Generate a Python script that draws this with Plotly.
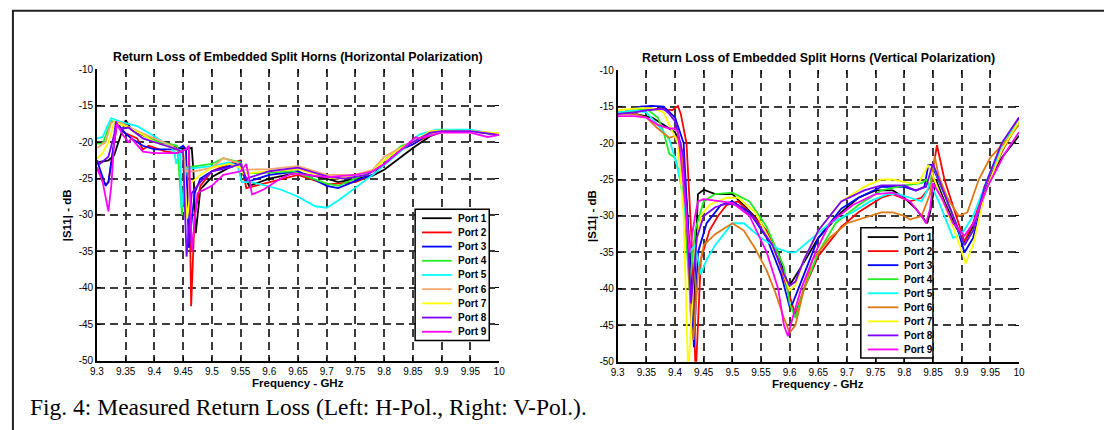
import plotly.graph_objects as go

W, H = 1104, 430

# ---------------- data ----------------
port_names = ["Port 1", "Port 2", "Port 3", "Port 4", "Port 5", "Port 6", "Port 7", "Port 8", "Port 9"]
colors_h = ["#000000", "#ff0000", "#0000ff", "#22ee22", "#00ffff", "#f8a66c", "#ffff00", "#7f00ff", "#ff00ff"]
colors_v = ["#000000", "#ff0000", "#0000ff", "#22ee22", "#00ffff", "#dd7a14", "#ffff00", "#7f00ff", "#ff00ff"]

freq_ticks = [9.3, 9.35, 9.4, 9.45, 9.5, 9.55, 9.6, 9.65, 9.7, 9.75, 9.8, 9.85, 9.9, 9.95, 10.0]
freq_tick_labels = ["9.3", "9.35", "9.4", "9.45", "9.5", "9.55", "9.6", "9.65", "9.7", "9.75", "9.8", "9.85", "9.9", "9.95", "10"]
db_ticks = [-50, -45, -40, -35, -30, -25, -20, -15, -10]
db_tick_labels = ["-50", "-45", "-40", "-35", "-30", "-25", "-20", "-15", "-10"]

# Horizontal polarization
h_f1 = [9.30, 9.32, 9.33, 9.34, 9.35, 9.36, 9.40, 9.44, 9.455, 9.465, 9.468, 9.472, 9.48, 9.50, 9.53, 9.55, 9.555, 9.565, 9.60, 9.65, 9.70, 9.72, 9.75, 9.78, 9.80, 9.83, 9.85, 9.88, 9.90, 9.95, 9.98, 10.0]
h_s1 = [-22.8, -22.5, -21.8, -19.5, -17.0, -18.3, -19.8, -20.8, -21.0, -20.8, -24.0, -32.5, -26.5, -24.8, -23.5, -23.0, -24.5, -26.0, -25.0, -24.2, -25.0, -25.5, -25.0, -24.6, -23.8, -22.0, -20.8, -19.2, -18.6, -18.4, -18.8, -19.0]
h_f2 = [9.30, 9.315, 9.32, 9.335, 9.35, 9.37, 9.38, 9.39, 9.42, 9.44, 9.455, 9.46, 9.464, 9.47, 9.48, 9.50, 9.53, 9.55, 9.56, 9.60, 9.65, 9.70, 9.75, 9.78, 9.80, 9.83, 9.85, 9.88, 9.90, 9.95, 10.0]
h_s2 = [-23.5, -25.8, -25.5, -17.5, -18.8, -19.5, -21.0, -20.5, -21.3, -21.5, -21.0, -20.8, -42.5, -30.0, -26.0, -24.0, -23.0, -22.5, -26.3, -25.5, -24.5, -25.8, -25.5, -24.5, -23.0, -21.0, -20.3, -19.0, -18.6, -18.5, -19.0]
h_f3 = [9.30, 9.315, 9.32, 9.33, 9.335, 9.345, 9.36, 9.38, 9.40, 9.44, 9.45, 9.455, 9.46, 9.47, 9.48, 9.50, 9.53, 9.55, 9.56, 9.60, 9.65, 9.70, 9.72, 9.76, 9.78, 9.80, 9.83, 9.85, 9.88, 9.90, 9.95, 9.98, 10.0]
h_s3 = [-22.5, -26.0, -25.5, -20.0, -17.2, -18.5, -19.5, -20.5, -21.0, -21.0, -20.5, -21.0, -34.5, -27.0, -25.0, -24.0, -23.3, -22.7, -25.5, -24.5, -24.0, -26.0, -26.3, -25.0, -24.5, -23.0, -21.0, -20.3, -18.8, -18.5, -18.5, -18.8, -19.0]
h_f4 = [9.30, 9.31, 9.325, 9.34, 9.37, 9.40, 9.43, 9.44, 9.448, 9.455, 9.50, 9.52, 9.55, 9.555, 9.60, 9.64, 9.70, 9.72, 9.75, 9.78, 9.80, 9.83, 9.85, 9.88, 9.90, 9.95, 9.98, 10.0]
h_s4 = [-20.2, -20.2, -17.1, -17.5, -18.5, -19.8, -20.3, -20.5, -30.0, -23.5, -23.0, -22.2, -22.8, -24.3, -24.2, -24.0, -25.7, -26.0, -25.0, -24.0, -22.5, -20.5, -20.0, -18.7, -18.5, -18.5, -18.8, -19.0]
h_f5 = [9.30, 9.31, 9.32, 9.325, 9.34, 9.37, 9.40, 9.43, 9.435, 9.438, 9.445, 9.447, 9.455, 9.50, 9.53, 9.545, 9.552, 9.57, 9.62, 9.65, 9.68, 9.70, 9.72, 9.75, 9.78, 9.81, 9.84, 9.86, 9.89, 9.95, 10.0]
h_s5 = [-19.5, -19.3, -17.5, -16.7, -17.2, -17.8, -19.2, -20.8, -21.5, -23.0, -21.0, -29.0, -23.7, -23.3, -22.8, -23.3, -25.5, -25.5, -26.5, -27.5, -28.8, -29.0, -28.0, -26.3, -24.5, -22.5, -20.5, -19.0, -18.3, -18.3, -19.0]
h_f6 = [9.30, 9.315, 9.325, 9.34, 9.37, 9.40, 9.43, 9.44, 9.45, 9.455, 9.47, 9.50, 9.52, 9.55, 9.555, 9.60, 9.65, 9.70, 9.75, 9.78, 9.80, 9.84, 9.86, 9.90, 9.95, 10.0]
h_s6 = [-20.8, -20.0, -17.3, -17.3, -18.5, -19.5, -20.5, -21.0, -21.5, -24.0, -24.0, -23.5, -22.2, -23.0, -23.8, -23.7, -23.3, -24.5, -24.5, -23.8, -22.0, -20.3, -19.5, -18.5, -18.5, -18.8]
h_f7 = [9.30, 9.31, 9.32, 9.33, 9.35, 9.38, 9.40, 9.44, 9.45, 9.457, 9.465, 9.48, 9.50, 9.53, 9.55, 9.555, 9.60, 9.65, 9.70, 9.72, 9.76, 9.78, 9.80, 9.83, 9.85, 9.88, 9.90, 9.95, 10.0]
h_s7 = [-22.3, -21.5, -20.0, -17.3, -17.8, -19.0, -20.0, -21.0, -21.5, -30.5, -25.5, -24.5, -23.5, -23.0, -23.5, -24.3, -24.0, -23.7, -24.8, -25.0, -24.3, -24.0, -22.5, -20.8, -20.0, -18.5, -18.4, -18.5, -18.8]
h_f8 = [9.30, 9.305, 9.32, 9.33, 9.333, 9.34, 9.355, 9.38, 9.42, 9.44, 9.45, 9.456, 9.465, 9.48, 9.50, 9.53, 9.55, 9.56, 9.60, 9.65, 9.70, 9.73, 9.77, 9.80, 9.83, 9.85, 9.88, 9.90, 9.95, 10.0]
h_s8 = [-22.5, -23.0, -22.0, -19.0, -17.2, -18.2, -18.0, -19.5, -20.5, -21.0, -21.5, -35.7, -27.0, -25.5, -24.0, -23.5, -23.0, -25.0, -24.0, -23.5, -24.7, -25.0, -24.5, -23.0, -21.0, -20.0, -18.7, -18.5, -18.5, -19.0]
h_f9 = [9.30, 9.31, 9.32, 9.325, 9.33, 9.335, 9.345, 9.355, 9.36, 9.38, 9.40, 9.44, 9.455, 9.46, 9.465, 9.475, 9.50, 9.52, 9.55, 9.56, 9.57, 9.59, 9.62, 9.64, 9.70, 9.75, 9.78, 9.80, 9.83, 9.855, 9.86, 9.90, 9.95, 9.98, 10.0]
h_s9 = [-23.5, -25.5, -29.5, -26.0, -20.0, -17.5, -19.0, -20.0, -19.5, -21.3, -21.5, -21.5, -21.0, -20.5, -35.0, -27.0, -26.0, -24.5, -24.0, -23.0, -27.2, -26.5, -25.0, -24.3, -24.8, -24.5, -24.0, -23.0, -21.0, -19.3, -19.5, -18.7, -18.7, -19.3, -19.0]

# Vertical polarization
v_f1 = [9.30, 9.33, 9.36, 9.38, 9.40, 9.41, 9.42, 9.432, 9.44, 9.45, 9.47, 9.50, 9.52, 9.55, 9.58, 9.595, 9.60, 9.62, 9.65, 9.69, 9.72, 9.75, 9.78, 9.80, 9.82, 9.84, 9.845, 9.855, 9.87, 9.89, 9.905, 9.92, 9.94, 9.97, 10.0]
v_s1 = [-15.8, -16.0, -16.5, -17.5, -18.5, -20.5, -28.0, -43.0, -27.0, -26.4, -27.0, -27.0, -28.5, -31.0, -35.0, -39.0, -39.5, -37.0, -33.0, -29.5, -27.5, -26.5, -26.5, -27.5, -29.0, -31.0, -29.5, -25.0, -28.0, -31.5, -33.5, -31.5, -26.5, -22.0, -19.0]
v_f2 = [9.30, 9.34, 9.37, 9.39, 9.395, 9.405, 9.41, 9.42, 9.43, 9.436, 9.445, 9.46, 9.475, 9.49, 9.51, 9.53, 9.56, 9.58, 9.60, 9.61, 9.625, 9.65, 9.69, 9.72, 9.76, 9.78, 9.81, 9.83, 9.845, 9.857, 9.87, 9.89, 9.905, 9.92, 9.94, 9.975, 10.0]
v_s2 = [-16.0, -15.5, -15.3, -15.5, -15.5, -14.9, -16.0, -20.0, -35.0, -52.0, -36.0, -32.0, -30.0, -28.5, -28.0, -29.5, -32.0, -36.0, -41.0, -43.5, -40.0, -35.5, -31.5, -29.5, -27.5, -27.0, -28.0, -27.5, -26.0, -20.3, -25.0, -30.0, -33.5, -31.0, -26.0, -20.5, -17.0]
v_f3 = [9.30, 9.34, 9.36, 9.38, 9.40, 9.415, 9.425, 9.433, 9.44, 9.455, 9.46, 9.48, 9.50, 9.53, 9.56, 9.585, 9.60, 9.605, 9.625, 9.65, 9.69, 9.72, 9.76, 9.80, 9.82, 9.835, 9.842, 9.848, 9.87, 9.89, 9.905, 9.92, 9.94, 9.97, 10.0]
v_s3 = [-16.0, -15.0, -14.9, -15.0, -16.5, -20.0, -35.0, -48.0, -35.0, -31.0, -30.5, -28.5, -28.0, -29.5, -33.0, -38.0, -42.5, -42.0, -38.0, -33.0, -29.0, -27.5, -26.0, -26.0, -26.5, -26.0, -23.0, -23.0, -27.0, -31.0, -35.0, -33.0, -27.0, -21.0, -16.5]
v_f4 = [9.30, 9.33, 9.35, 9.37, 9.38, 9.39, 9.40, 9.415, 9.425, 9.435, 9.45, 9.47, 9.50, 9.53, 9.56, 9.59, 9.60, 9.61, 9.625, 9.65, 9.68, 9.72, 9.76, 9.80, 9.83, 9.838, 9.845, 9.85, 9.87, 9.89, 9.905, 9.92, 9.94, 9.97, 10.0]
v_s4 = [-16.0, -15.5, -15.3, -16.5, -18.5, -21.5, -22.0, -27.0, -40.0, -32.0, -28.0, -27.0, -26.8, -28.0, -31.5, -37.0, -42.0, -44.0, -40.0, -35.0, -31.0, -28.5, -26.5, -25.8, -25.5, -25.0, -26.0, -23.0, -27.0, -31.0, -34.0, -32.0, -26.0, -20.0, -17.0]
v_f5 = [9.30, 9.33, 9.35, 9.37, 9.39, 9.405, 9.415, 9.425, 9.435, 9.445, 9.455, 9.47, 9.50, 9.52, 9.55, 9.58, 9.60, 9.61, 9.64, 9.67, 9.71, 9.74, 9.77, 9.79, 9.81, 9.83, 9.84, 9.845, 9.86, 9.885, 9.90, 9.92, 9.95, 9.975, 10.0]
v_s5 = [-15.8, -15.5, -15.8, -17.5, -19.5, -23.5, -28.0, -35.0, -34.0, -38.0, -36.0, -34.0, -31.0, -31.0, -33.0, -34.5, -35.0, -35.0, -33.0, -31.0, -29.5, -28.0, -27.0, -27.0, -27.5, -28.0, -26.5, -25.5, -28.0, -33.0, -32.5, -30.0, -24.0, -20.0, -17.0]
v_f6 = [9.30, 9.33, 9.35, 9.37, 9.39, 9.40, 9.41, 9.42, 9.428, 9.432, 9.44, 9.45, 9.47, 9.49, 9.50, 9.52, 9.54, 9.56, 9.575, 9.59, 9.60, 9.61, 9.625, 9.64, 9.67, 9.70, 9.72, 9.76, 9.78, 9.80, 9.81, 9.83, 9.845, 9.853, 9.86, 9.875, 9.895, 9.91, 9.93, 9.95, 9.98, 10.0]
v_s6 = [-16.0, -16.0, -16.5, -18.0, -19.3, -19.0, -20.0, -30.0, -45.0, -47.0, -38.0, -34.0, -32.5, -31.5, -31.0, -32.0, -34.5, -37.5, -40.5, -44.0, -46.0, -45.0, -40.0, -36.0, -33.0, -31.0, -30.5, -29.5, -29.5, -30.0, -30.5, -30.0, -27.0, -21.8, -24.5, -27.5, -30.0, -29.5, -25.0, -22.0, -19.5, -17.5]
v_f7 = [9.30, 9.34, 9.36, 9.38, 9.39, 9.405, 9.415, 9.423, 9.435, 9.445, 9.46, 9.49, 9.51, 9.54, 9.57, 9.59, 9.60, 9.61, 9.625, 9.65, 9.69, 9.73, 9.76, 9.78, 9.81, 9.825, 9.835, 9.842, 9.85, 9.87, 9.89, 9.907, 9.92, 9.94, 9.97, 10.0]
v_s7 = [-15.5, -15.2, -15.2, -15.8, -17.5, -20.0, -30.0, -52.0, -35.0, -30.0, -28.5, -27.5, -27.5, -29.5, -34.0, -38.0, -40.2, -39.5, -36.0, -32.0, -28.0, -26.0, -25.0, -25.0, -25.5, -25.5, -24.0, -23.0, -24.5, -28.5, -32.5, -36.5, -34.0, -27.0, -21.0, -17.0]
v_f8 = [9.30, 9.33, 9.35, 9.37, 9.38, 9.39, 9.40, 9.405, 9.415, 9.428, 9.438, 9.45, 9.47, 9.49, 9.51, 9.54, 9.57, 9.59, 9.60, 9.61, 9.625, 9.65, 9.69, 9.73, 9.76, 9.80, 9.82, 9.838, 9.845, 9.85, 9.865, 9.885, 9.905, 9.92, 9.94, 9.97, 10.0]
v_s8 = [-16.0, -15.8, -15.5, -15.3, -15.3, -16.0, -17.0, -18.5, -22.0, -42.0, -33.0, -30.0, -28.8, -28.3, -28.5, -30.5, -34.0, -38.0, -39.6, -39.0, -36.0, -32.0, -28.0, -26.5, -25.8, -25.8, -26.5, -26.0, -24.0, -22.8, -26.0, -30.0, -34.0, -32.0, -26.0, -20.0, -16.5]
v_f9 = [9.30, 9.33, 9.35, 9.37, 9.39, 9.40, 9.405, 9.41, 9.42, 9.425, 9.435, 9.44, 9.45, 9.48, 9.50, 9.53, 9.56, 9.58, 9.59, 9.597, 9.605, 9.62, 9.645, 9.67, 9.71, 9.75, 9.78, 9.81, 9.83, 9.838, 9.845, 9.85, 9.865, 9.885, 9.905, 9.92, 9.945, 9.975, 10.0]
v_s9 = [-16.3, -16.3, -16.5, -17.5, -18.0, -18.0, -18.5, -22.0, -30.0, -35.0, -30.0, -28.0, -27.7, -28.0, -28.2, -30.0, -35.0, -40.0, -45.0, -46.5, -44.0, -40.0, -35.0, -31.0, -28.5, -27.0, -26.8, -28.0, -30.0, -31.0, -29.0, -25.5, -27.5, -31.0, -32.7, -31.0, -26.0, -21.5, -18.5]

h_freqs = [h_f1, h_f2, h_f3, h_f4, h_f5, h_f6, h_f7, h_f8, h_f9]
h_s11 = [h_s1, h_s2, h_s3, h_s4, h_s5, h_s6, h_s7, h_s8, h_s9]
v_freqs = [v_f1, v_f2, v_f3, v_f4, v_f5, v_f6, v_f7, v_f8, v_f9]
v_s11 = [v_s1, v_s2, v_s3, v_s4, v_s5, v_s6, v_s7, v_s8, v_s9]

title_h = "Return Loss of Embedded Split Horns (Horizontal Polarization)"
title_v = "Return Loss of Embedded Split Horns (Vertical Polarization)"
caption = "Fig. 4: Measured Return Loss (Left: H-Pol., Right: V-Pol.)."

# ---------------- figure ----------------
def px(x):
    return x / W

def py(y):
    return 1 - y / H

fig = go.Figure()
for i in range(9):
    fig.add_trace(go.Scatter(x=h_freqs[i], y=h_s11[i], mode="lines", name=port_names[i],
                             line=dict(color=colors_h[i], width=1.8), xaxis="x", yaxis="y",
                             showlegend=False))
for i in range(9):
    fig.add_trace(go.Scatter(x=v_freqs[i], y=v_s11[i], mode="lines", name=port_names[i],
                             line=dict(color=colors_v[i], width=1.8), xaxis="x2", yaxis="y2",
                             showlegend=False))
# empty traces so the mirrored tick axes (top / right) are drawn
for xa, ya in (("x3", "y"), ("x", "y3"), ("x4", "y2"), ("x2", "y4")):
    fig.add_trace(go.Scatter(x=[], y=[], xaxis=xa, yaxis=ya, showlegend=False, hoverinfo="skip"))

L = dict(x0=91, x1=498, y0=65, y1=365)
R = dict(x0=618, x1=1024, y0=66, y1=366)

tickfont = dict(family="Liberation Sans, Arial", size=10, color="black")
gridstyle = dict(showgrid=True, gridcolor="#3c3c3c", gridwidth=1.5, griddash="8px,5px")
xcommon = dict(range=[9.3, 10.0], tickvals=freq_ticks, ticktext=freq_tick_labels,
               showline=True, linecolor="black", linewidth=1.6, ticks="inside",
               ticklen=4, tickcolor="black", tickfont=tickfont, zeroline=False, fixedrange=True, **gridstyle)
ycommon = dict(range=[-50, -10], tickvals=db_ticks, ticktext=db_tick_labels,
               showline=True, linecolor="black", linewidth=1.6, ticks="inside",
               ticklen=4, tickcolor="black", tickfont=tickfont, zeroline=False, fixedrange=True, **gridstyle)
xmirror = dict(range=[9.3, 10.0], tickvals=freq_ticks, ticks="inside", ticklen=4, tickcolor="black",
               showticklabels=False, showgrid=False, showline=False, zeroline=False, side="top", fixedrange=True)
ymirror = dict(range=[-50, -10], tickvals=db_ticks, ticks="inside", ticklen=4, tickcolor="black",
               showticklabels=False, showgrid=False, showline=False, zeroline=False, side="right", fixedrange=True)

fig.update_layout(
    width=W, height=H, margin=dict(l=0, r=0, t=0, b=0),
    paper_bgcolor="white", plot_bgcolor="white", showlegend=False,
    xaxis=dict(domain=[px(L["x0"]), px(L["x1"])], anchor="y", **xcommon),
    yaxis=dict(domain=[py(L["y1"]), py(L["y0"])], anchor="x", **ycommon),
    xaxis2=dict(domain=[px(R["x0"]), px(R["x1"])], anchor="y2", **xcommon),
    yaxis2=dict(domain=[py(R["y1"]), py(R["y0"])], anchor="x2", **ycommon),
    xaxis3=dict(overlaying="x", anchor="y", **xmirror),
    yaxis3=dict(overlaying="y", anchor="x", **ymirror),
    xaxis4=dict(overlaying="x2", anchor="y2", **xmirror),
    yaxis4=dict(overlaying="y2", anchor="x2", **ymirror),
)

shapes = []
annots = []
# outer frame
shapes.append(dict(type="rect", xref="paper", yref="paper", x0=px(6), x1=px(1130), y0=py(5), y1=py(460),
                   line=dict(color="#222222", width=2)))

titlefont = dict(family="Liberation Sans, Arial", size=12.4, color="black")
labelfont = dict(family="Liberation Sans, Arial", size=11.5, color="black")
for P, ttl in ((L, title_h), (R, title_v)):
    cx = (P["x0"] + P["x1"]) / 2
    annots.append(dict(text="<b>" + ttl + "</b>", x=px(cx), y=py(P["y0"] - 13), xref="paper", yref="paper",
                       showarrow=False, xanchor="center", yanchor="middle", font=titlefont))
    annots.append(dict(text="<b>Frequency - GHz</b>", x=px(cx), y=py(P["y1"] + 23), xref="paper", yref="paper",
                       showarrow=False, xanchor="center", yanchor="middle", font=labelfont))
annots.append(dict(text="<b>|S11| - dB</b>", x=px(61), y=py(215), xref="paper", yref="paper", textangle=-90,
                   showarrow=False, xanchor="center", yanchor="middle", font=labelfont))
annots.append(dict(text="<b>|S11| - dB</b>", x=px(592), y=py(216), xref="paper", yref="paper", textangle=-90,
                   showarrow=False, xanchor="center", yanchor="middle", font=labelfont))

# legends (drawn per panel)
legfont = dict(family="Liberation Sans, Arial", size=10, color="black")
for box, cols in ((dict(x0=413, x1=488, y0=209, y1=344, first=218.3, step=14.6, lx0=420, lx1=450, tx=454), colors_h),
                  (dict(x0=864, x1=937, y0=228, y1=362, first=237.7, step=14.45, lx0=871, lx1=902, tx=906), colors_v)):
    shapes.append(dict(type="rect", xref="paper", yref="paper", x0=px(box["x0"]), x1=px(box["x1"]),
                       y0=py(box["y0"]), y1=py(box["y1"]), line=dict(color="black", width=1.5),
                       fillcolor="white", layer="above"))
    for i in range(9):
        yy = box["first"] + i * box["step"]
        shapes.append(dict(type="line", xref="paper", yref="paper", x0=px(box["lx0"]), x1=px(box["lx1"]),
                           y0=py(yy), y1=py(yy), line=dict(color=cols[i], width=1.8), layer="above"))
        annots.append(dict(text="<b>" + port_names[i] + "</b>", x=px(box["tx"]), y=py(yy), xref="paper", yref="paper",
                           showarrow=False, xanchor="left", yanchor="middle", font=legfont))

annots.append(dict(text=caption, x=px(21), y=py(413), xref="paper", yref="paper", showarrow=False,
                   xanchor="left", yanchor="middle",
                   font=dict(family="Liberation Serif, Times New Roman", size=23.5, color="black")))

fig.update_layout(shapes=shapes, annotations=annots)
fig.write_html("out.html")
